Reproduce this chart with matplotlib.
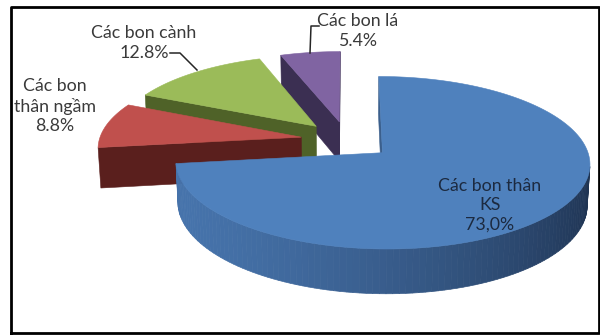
import numpy as np
import matplotlib.pyplot as plt
from matplotlib.colors import to_rgb
from matplotlib.patches import Polygon

# slice data, clockwise from 12 o'clock
names = ['Các bon thân\nKS', 'Các bon\nthân ngầm', 'Các bon cành', 'Các bon lá']
shares = [73.0, 8.8, 12.8, 5.4]
pct_labels = ['73,0%', '8.8%', '12.8%', '5.4%']

top_colors = ['#4f81bd', '#c0504d', '#9bbb59', '#8064a2']
wall_light = ['#4673ab', '#7a2b28', '#5d7530', '#4b3a63']
wall_dark = ['#1c2f4c', '#4a1614', '#3a4a1c', '#2c2240']
cut_colors = ['#3b5f8c', '#5a1f1d', '#4f6228', '#3b2f52']

# 3d view settings
ELEV = np.radians(24)
DIST = 8.0
THICK = 0.22
EXPLODE = 0.23
SCALE = 202.0
OX, OY = 347.0, 140.0
LIGHT = np.radians(200)

cam = np.array([0.0, DIST * np.sin(ELEV), -DIST * np.cos(ELEV)])


def project(X, Y, Z):
    X, Y, Z = np.asarray(X, float), np.asarray(Y, float), np.asarray(Z, float)
    yc = Y * np.cos(ELEV) + Z * np.sin(ELEV)
    zc = DIST - Y * np.sin(ELEV) + Z * np.cos(ELEV)
    u = X * DIST / zc
    v = yc * DIST / zc
    return OX + SCALE * u, OY - SCALE * v


def face_visible(point, normal):
    return np.dot(normal, cam - point) > 0


def mix(c1, c2, t):
    a, b = np.array(to_rgb(c1)), np.array(to_rgb(c2))
    return tuple(a + (b - a) * t)


fig = plt.figure(figsize=(6, 3.35), dpi=100)
ax = fig.add_axes([0, 0, 1, 1])
ax.set_xlim(0, 600)
ax.set_ylim(335, 0)
ax.axis('off')

# angle ranges, going clockwise from 90 degrees
edges = 90 - 360 * np.concatenate([[0], np.cumsum(shares)]) / 100.0
slices = []
for i in range(len(shares)):
    hi, lo = edges[i], edges[i + 1]
    mid = np.radians((hi + lo) / 2)
    cx, cz = EXPLODE * np.cos(mid), EXPLODE * np.sin(mid)
    slices.append((i, np.radians(lo), np.radians(hi), cx, cz))

# far slices first
slices.sort(key=lambda s: -s[4])

for i, lo, hi, cx, cz in slices:
    # flat cut faces
    for ang, sgn in [(hi, 1), (lo, -1)]:
        ex, ez = cx + np.cos(ang), cz + np.sin(ang)
        n = np.array([-np.sin(ang), 0, np.cos(ang)]) * sgn
        p = np.array([(cx + ex) / 2, -THICK / 2, (cz + ez) / 2])
        if face_visible(p, n):
            xs, ys = project([cx, ex, ex, cx], [0, 0, -THICK, -THICK], [cz, ez, ez, cz])
            ax.add_patch(Polygon(np.column_stack([xs, ys]), closed=True,
                                 facecolor=cut_colors[i], edgecolor=cut_colors[i], lw=0.4))

    # curved outer wall, shaded by angle
    th = np.linspace(lo, hi, 160)
    for a0, a1 in zip(th[:-1], th[1:]):
        am = (a0 + a1) / 2
        n = np.array([np.cos(am), 0, np.sin(am)])
        p = np.array([cx + np.cos(am), -THICK / 2, cz + np.sin(am)])
        if not face_visible(p, n):
            continue
        t = (1 + np.cos(am - LIGHT)) / 2
        col = mix(wall_dark[i], wall_light[i], t)
        X = [cx + np.cos(a0), cx + np.cos(a1), cx + np.cos(a1), cx + np.cos(a0)]
        Z = [cz + np.sin(a0), cz + np.sin(a1), cz + np.sin(a1), cz + np.sin(a0)]
        xs, ys = project(X, [0, 0, -THICK, -THICK], Z)
        ax.add_patch(Polygon(np.column_stack([xs, ys]), closed=True,
                             facecolor=col, edgecolor=col, lw=0.5))

    # top face
    X = np.concatenate([[cx], cx + np.cos(th)])
    Z = np.concatenate([[cz], cz + np.sin(th)])
    xs, ys = project(X, np.zeros_like(X), Z)
    ax.add_patch(Polygon(np.column_stack([xs, ys]), closed=True,
                         facecolor=top_colors[i], edgecolor=top_colors[i], lw=0.4))

font = ['Lato', 'Noto Sans', 'DejaVu Sans']
txt = '#3a3a3a'
fs = 12.8

ax.text(490, 205, names[0] + '\n' + pct_labels[0], ha='center', va='center',
        fontsize=fs, color='#1c2a40', family=font, linespacing=1.25)
ax.text(55, 106, names[1] + '\n' + pct_labels[1], ha='center', va='center',
        fontsize=fs, color=txt, family=font, linespacing=1.25)
ax.text(144, 43, names[2] + '\n' + pct_labels[2], ha='center', va='center',
        fontsize=fs, color=txt, family=font, linespacing=1.25)
ax.text(358, 31, names[3] + '\n' + pct_labels[3], ha='center', va='center',
        fontsize=fs, color=txt, family=font, linespacing=1.25)

# leader lines
ax.plot([170, 180, 197], [53, 53, 70], color='#262626', lw=1.1)
ax.plot([319, 311, 310], [26, 26, 53], color='#262626', lw=1.1)

# outer frame
ax.plot([11, 11, 598.5, 598.5, 11], [333, 7, 7, 333, 333], color='black', lw=2.0)

fig.savefig('out.png', dpi=100)
